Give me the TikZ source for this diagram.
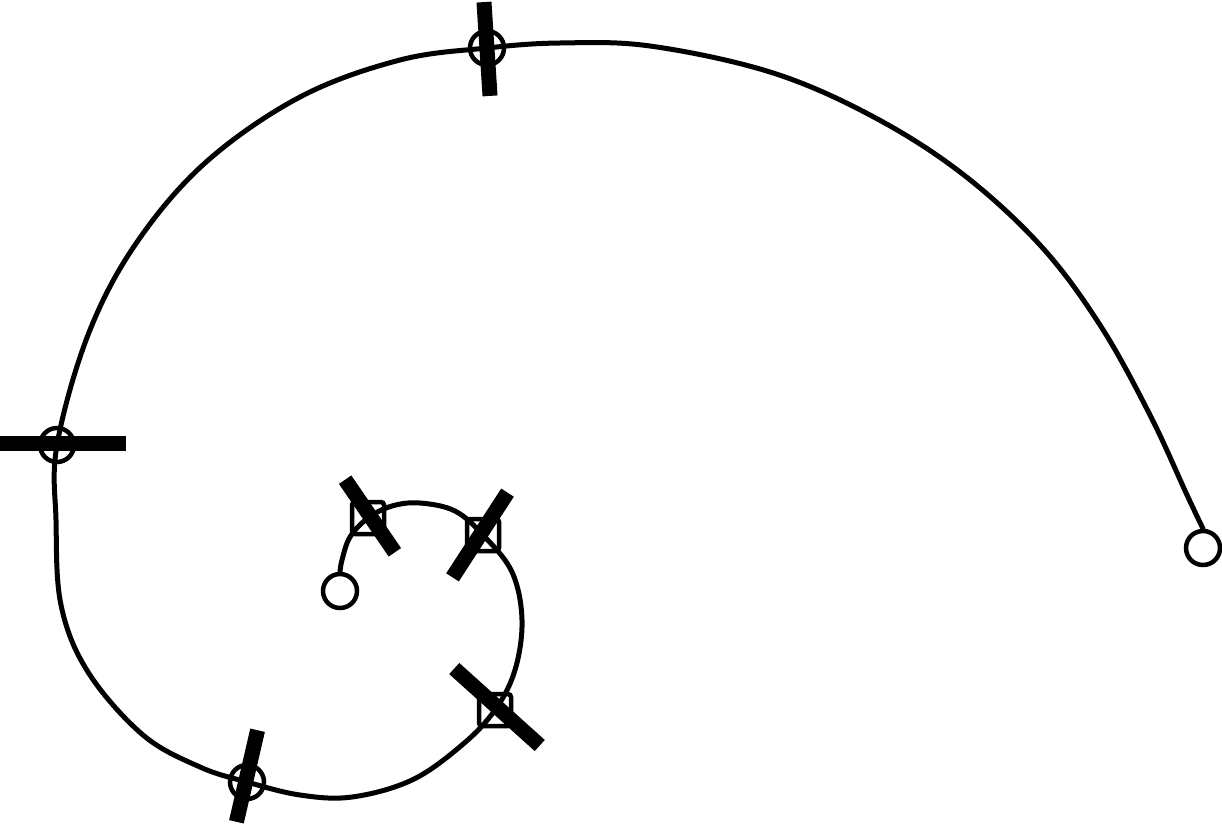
\documentclass[tikz,border=0pt]{standalone}
\begin{document}
\begin{tikzpicture}[x=1pt,y=-1pt,
  ring/.style={draw=black, line width=4.5pt, circle, minimum size=34pt, inner sep=0pt},
  sqmark/.style={draw=black, line width=4.5pt, rectangle, rounded corners=3pt, minimum size=32pt, inner sep=0pt},
  endring/.style={draw=black, line width=4.5pt, circle, minimum size=34pt, inner sep=0pt},
  barnode/.style={fill=black, rectangle, minimum height=15pt, inner sep=0pt},
  spiral/.style={line width=5pt, line cap=round, line join=round}]
\useasboundingbox (0,0) rectangle (1222,825);
% marker positions
\coordinate (p1) at (487,48);
\coordinate (p2) at (57,445);
\coordinate (p3) at (247,782);
\coordinate (p4) at (495,710);
\coordinate (p5) at (483,535);
\coordinate (p6) at (368,518);
% end rings
\node[endring] (e1) at (1203,548) {};
\node[endring] (e2) at (340,591) {};
% spiral
\draw[spiral] plot[smooth, tension=0.6] coordinates {
  (e1.north) (1187,495) (1150,415) (1100,325) (1040,245) (960,172) (870,115) (770,72) (650,46) (560,43)
  (p1) (400,60) (300,97) (205,163) (135,245) (88,335)
  (p2) (56,520) (61,605) (88,672) (143,735) (200,767)
  (p3) (300,795) (352,797) (412,780) (462,745)
  (p4) (515,670) (522,620) (512,572)
  (p5) (455,511) (420,503) (392,506)
  (p6) (350,537) (342,560) (e2.north)};
% markers
\node[ring] (m1) at (p1) {};
\node[ring] (m2) at (p2) {};
\node[ring] (m3) at (p3) {};
\node[sqmark] (m4) at (p4) {};
\node[sqmark] (m5) at (p5) {};
\node[sqmark] (m6) at (p6) {};
% bars
\node[barnode, minimum width=94pt, rotate=93.7] (b1) at (487,49) {};
\node[barnode, minimum width=126pt] (b2) at (63,443) {};
\node[barnode, minimum width=94pt, rotate=77] (b3) at (247,776) {};
\node[barnode, minimum width=115pt, rotate=-42] (b4) at (497,707) {};
\node[barnode, minimum width=101pt, rotate=57] (b5) at (480,535) {};
\node[barnode, minimum width=88pt, rotate=-55.6] (b6) at (370,516) {};
\end{tikzpicture}
\end{document}
